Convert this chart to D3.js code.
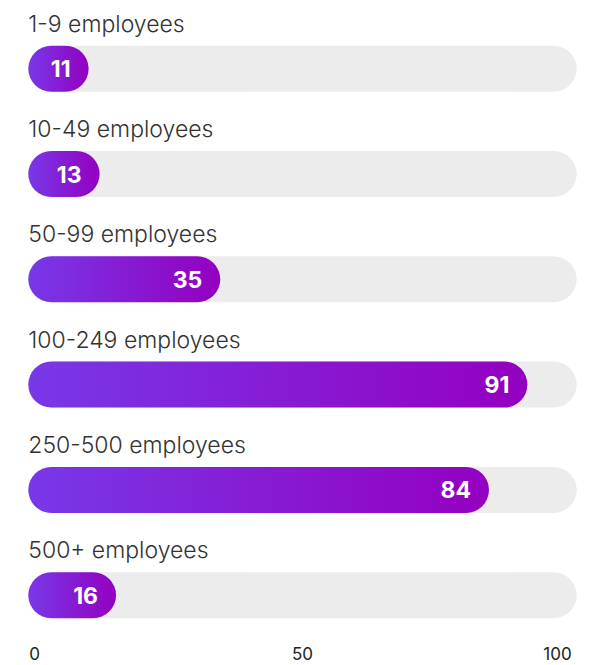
<!DOCTYPE html>
<html>
<head>
<meta charset="utf-8">
<script src="https://cdn.jsdelivr.net/npm/d3@7"></script>
<style>
  html, body { margin: 0; padding: 0; background: #ffffff; }
  svg { display: block; }
</style>
</head>
<body>
<svg id="chart" width="598" height="665"></svg>
<script>
// Company size bands and their values
const categories = ["1-9 employees", "10-49 employees", "50-99 employees", "100-249 employees", "250-500 employees", "500+ employees"];
const values = [11, 13, 35, 91, 84, 16];
const tickValues = [0, 50, 100];

const data = categories.map((c, i) => ({ category: c, value: values[i] }));

const svg = d3.select("#chart");

const x = d3.scaleLinear().domain([0, 100]).range([28.3, 576.7]);
const y = d3.scaleBand().domain(categories).range([45.7, 618.2]).paddingInner(0.563).paddingOuter(0);
const bh = y.bandwidth();
const r = bh / 2;

// Per-bar horizontal gradient
const defs = svg.append("defs");
const grad = defs.append("linearGradient")
  .attr("id", "barGrad")
  .attr("x1", "0%").attr("y1", "0%")
  .attr("x2", "100%").attr("y2", "0%");
grad.append("stop").attr("offset", "0%").attr("stop-color", "#7838e8");
grad.append("stop").attr("offset", "100%").attr("stop-color", "#9400c0");

const labelFont = "Inter, 'Noto Sans', sans-serif";

const rows = svg.selectAll("g.row").data(data).join("g").attr("class", "row");

// Background track
rows.append("rect")
  .attr("x", x(0))
  .attr("y", d => y(d.category))
  .attr("width", x(100) - x(0))
  .attr("height", bh)
  .attr("rx", r).attr("ry", r)
  .attr("fill", "#ececec");

// Value bar
rows.append("rect")
  .attr("x", x(0))
  .attr("y", d => y(d.category))
  .attr("width", d => x(d.value) - x(0))
  .attr("height", bh)
  .attr("rx", r).attr("ry", r)
  .attr("fill", "url(#barGrad)");

// Category labels above each track
rows.append("text")
  .attr("x", x(0))
  .attr("y", d => y(d.category) - 14)
  .attr("font-family", labelFont)
  .attr("font-size", 23)
  .attr("font-weight", 350)
  .attr("fill", "#333333")
  .text(d => d.category);

// Value labels inside the bar end
rows.append("text")
  .attr("x", d => x(d.value) - 18)
  .attr("y", d => y(d.category) + bh / 2 + 8.5)
  .attr("text-anchor", "end")
  .attr("font-family", labelFont)
  .attr("font-weight", 700)
  .attr("font-size", 23)
  .attr("fill", "#ffffff")
  .text(d => d.value);

// Bottom scale labels
svg.append("g")
  .selectAll("text")
  .data(tickValues)
  .join("text")
  .attr("x", (d, i) => i === 0 ? x(d) + 1 : (i === tickValues.length - 1 ? x(d) - 5 : x(d)))
  .attr("y", 660)
  .attr("text-anchor", (d, i) => i === 0 ? "start" : (i === tickValues.length - 1 ? "end" : "middle"))
  .attr("font-family", labelFont)
  .attr("font-size", 17)
  .attr("fill", "#222222")
  .text(d => d);
</script>
</body>
</html>
